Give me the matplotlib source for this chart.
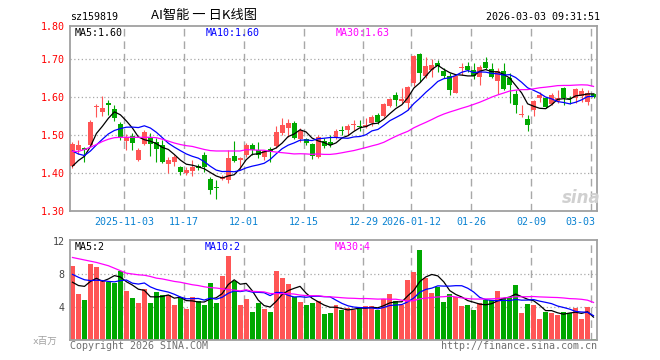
import matplotlib
matplotlib.use("Agg")
import matplotlib.pyplot as plt
import matplotlib.transforms as mtransforms
import numpy as np
import pandas as pd

# ---------------- data ----------------
holidays = ["2026-01-01", "2026-01-02", "2026-02-16", "2026-02-17", "2026-02-18",
            "2026-02-19", "2026-02-20", "2026-02-23"]
start_date, end_date = "2025-10-21", "2026-03-03"

label_dates = ["2025-11-03", "2025-11-17", "2025-12-01", "2025-12-15", "2025-12-29",
               "2026-01-12", "2026-01-26", "2026-02-09", "2026-03-03"]
label_texts = ["2025-11-03", "11-17", "12-01", "12-15", "12-29",
               "2026-01-12", "01-26", "02-09", "03-03"]

opens = [1.418, 1.461, 1.466, 1.474, 1.574, 1.561, 1.584, 1.568, 1.529, 1.483,
         1.497, 1.434, 1.476, 1.495, 1.482, 1.474, 1.424, 1.429, 1.416, 1.400,
         1.405, 1.418, 1.447, 1.384, 1.363, 1.384, 1.382, 1.445, 1.434, 1.447,
         1.474, 1.461, 1.442, 1.463, 1.470, 1.505, 1.518, 1.532, 1.489, 1.489,
         1.476, 1.442, 1.484, 1.482, 1.492, 1.513, 1.514, 1.526, 1.524, 1.521,
         1.532, 1.553, 1.549, 1.576, 1.605, 1.589, 1.584, 1.637, 1.712, 1.655,
         1.671, 1.690, 1.669, 1.655, 1.611, 1.677, 1.682, 1.671, 1.653, 1.693,
         1.673, 1.643, 1.669, 1.649, 1.608, 1.552, 1.542, 1.566, 1.597, 1.597,
         1.581, 1.590, 1.623, 1.597, 1.597, 1.603, 1.588, 1.608]
closes = [1.476, 1.474, 1.461, 1.534, 1.576, 1.571, 1.579, 1.545, 1.495, 1.495,
          1.479, 1.461, 1.508, 1.476, 1.463, 1.429, 1.434, 1.442, 1.403, 1.408,
          1.416, 1.413, 1.416, 1.355, 1.361, 1.390, 1.439, 1.432, 1.439, 1.474,
          1.461, 1.447, 1.458, 1.455, 1.508, 1.526, 1.532, 1.492, 1.511, 1.480,
          1.445, 1.495, 1.471, 1.474, 1.511, 1.511, 1.524, 1.528, 1.522, 1.526,
          1.547, 1.533, 1.582, 1.594, 1.593, 1.596, 1.627, 1.708, 1.662, 1.682,
          1.684, 1.682, 1.655, 1.618, 1.655, 1.679, 1.671, 1.655, 1.680, 1.676,
          1.652, 1.669, 1.621, 1.632, 1.579, 1.553, 1.526, 1.589, 1.605, 1.574,
          1.605, 1.597, 1.597, 1.596, 1.620, 1.616, 1.611, 1.599]
highs = [1.482, 1.487, 1.468, 1.539, 1.582, 1.603, 1.592, 1.579, 1.534, 1.503,
         1.505, 1.466, 1.513, 1.505, 1.492, 1.487, 1.442, 1.447, 1.418, 1.416,
         1.434, 1.424, 1.455, 1.389, 1.382, 1.395, 1.461, 1.484, 1.442, 1.479,
         1.479, 1.482, 1.461, 1.468, 1.524, 1.545, 1.542, 1.537, 1.518, 1.492,
         1.479, 1.500, 1.492, 1.500, 1.516, 1.524, 1.529, 1.539, 1.539, 1.545,
         1.553, 1.558, 1.584, 1.597, 1.613, 1.624, 1.629, 1.711, 1.716, 1.705,
         1.700, 1.697, 1.676, 1.662, 1.658, 1.689, 1.692, 1.690, 1.684, 1.706,
         1.689, 1.676, 1.689, 1.662, 1.618, 1.579, 1.553, 1.592, 1.614, 1.599,
         1.610, 1.618, 1.627, 1.603, 1.623, 1.623, 1.618, 1.611]
lows = [1.413, 1.450, 1.429, 1.468, 1.547, 1.550, 1.553, 1.537, 1.487, 1.461,
        1.461, 1.432, 1.474, 1.445, 1.429, 1.426, 1.400, 1.418, 1.395, 1.395,
        1.392, 1.408, 1.403, 1.345, 1.332, 1.382, 1.374, 1.429, 1.408, 1.442,
        1.447, 1.439, 1.434, 1.429, 1.466, 1.500, 1.495, 1.489, 1.482, 1.474,
        1.437, 1.439, 1.466, 1.468, 1.489, 1.500, 1.500, 1.513, 1.511, 1.518,
        1.524, 1.529, 1.547, 1.574, 1.576, 1.584, 1.566, 1.629, 1.639, 1.650,
        1.653, 1.666, 1.650, 1.605, 1.610, 1.658, 1.666, 1.647, 1.632, 1.673,
        1.649, 1.608, 1.618, 1.583, 1.557, 1.548, 1.511, 1.550, 1.588, 1.570,
        1.579, 1.583, 1.579, 1.582, 1.583, 1.588, 1.579, 1.597]
volumes = [8.97, 5.58, 4.85, 9.20, 8.80, 7.15, 7.00, 6.87, 8.36, 5.94,
           5.13, 4.48, 6.18, 4.48, 5.82, 5.41, 5.41, 4.24, 5.05, 3.76,
           5.25, 4.73, 4.24, 6.90, 4.48, 7.76, 10.18, 7.15, 4.24, 4.97,
           3.39, 4.48, 3.76, 3.39, 8.36, 7.56, 6.83, 5.17, 4.60, 4.24,
           4.48, 4.73, 3.15, 3.27, 4.24, 3.64, 3.92, 3.64, 3.92, 4.16,
           4.16, 3.64, 4.97, 5.58, 4.73, 4.24, 7.27, 8.28, 10.90, 7.56,
           5.70, 6.42, 4.65, 5.58, 5.25, 4.16, 4.24, 3.64, 4.44, 4.85,
           4.85, 5.94, 5.13, 5.25, 6.67, 3.27, 4.36, 4.24, 2.55, 3.39,
           3.27, 3.03, 3.39, 3.27, 3.88, 2.55, 4.04, 0.12]

# moving-average values at the left edge (they depend on earlier, unseen days)
ma5_head = [1.418, 1.433, 1.444, 1.470]
ma10_head = [1.458, 1.450, 1.446, 1.458, 1.474, 1.489, 1.503, 1.512, 1.517]
ma30_head = [1.457, 1.457, 1.462, 1.468, 1.475, 1.483, 1.489, 1.493, 1.494, 1.494,
             1.494, 1.494, 1.494, 1.494, 1.493, 1.489, 1.484, 1.479, 1.475, 1.472,
             1.470, 1.466, 1.462, 1.459, 1.458, 1.458, 1.458, 1.458, 1.458]
vol_ma5_head = [7.0, 6.6, 6.5, 7.1]
vol_ma10_head = [7.95, 7.6, 7.3, 7.2, 7.25, 7.2, 7.1, 7.05, 7.2]
vol_ma30_head = [10.0, 9.85, 9.7, 9.55, 9.4, 9.2, 9.0, 8.7, 8.4, 8.1,
                 8.0, 7.9, 7.85, 7.7, 7.5, 7.4, 7.25, 7.1, 7.0, 6.85,
                 6.7, 6.6, 6.45, 6.35, 6.3, 6.2, 6.1, 6.05, 5.95]

price_ticks = [1.30, 1.40, 1.50, 1.60, 1.70, 1.80]
vol_ticks = [4, 8, 12]

code_text = "sz159819"
title_text = "AI智能 一 日K线图"
time_text = "2026-03-03 09:31:51"
price_legend = ["MA5:1.60", "MA10:1.60", "MA30:1.63"]
vol_legend = ["MA5:2", "MA10:2", "MA30:4"]
vol_unit = "x百万"
copyright_text = "Copyright 2026 SINA.COM"
url_text = "http://finance.sina.com.cn"

# ---------------- styles ----------------
RED = "#ff5555"
GREEN = "#00a800"
GRID = "#a8a8a8"
FRAME = "#a0a0a0"
XLAB = "#0a82d2"
MONO = "DejaVu Sans Mono"
FS = 7.2
MA_COLORS = ["#000000", "#0000ff", "#ff00ff"]

W, H = 660, 360
fig = plt.figure(figsize=(W / 100, H / 100), dpi=100)
fig.patch.set_facecolor("white")


def fx(px):
    return px / W


def fy(py):
    return 1 - py / H


ax = fig.add_axes([fx(70), fy(211), fx(597) - fx(70), fy(26) - fy(211)])
axv = fig.add_axes([fx(70), fy(340), fx(597) - fx(70), fy(240) - fy(340)])

trade_days = pd.bdate_range(start_date, end_date)
trade_days = trade_days[~trade_days.isin(pd.to_datetime(holidays))]
o = np.array(opens)
c = np.array(closes)
hi = np.array(highs)
lo = np.array(lows)
v = np.array(volumes)
n = len(c)
idx = np.arange(n)
BW = 5 / 6
xc = idx + BW / 2
up = c >= o
cols = np.where(up, RED, GREEN)

tick_idx = [int(trade_days.get_loc(pd.Timestamp(d))) for d in label_dates]


def moving_average(values, window, head):
    s = pd.Series(values).rolling(window).mean().to_numpy()
    s[: window - 1] = head
    return s


# ---------------- price panel ----------------
ytop = 1.787
ax.set_xlim(0, n)
ax.set_ylim(1.30, ytop)
for t in price_ticks[1:-1]:
    ax.axhline(t, color=GRID, lw=0.9, ls=(0, (1, 2)), zorder=0)
for xi in tick_idx:
    ax.axvline(xi, color=GRID, lw=1.0, ls=(0, (5.5, 3.5)), zorder=0)

ax.vlines(xc, lo, hi, colors=cols, lw=0.8, zorder=2)
body_bottom = np.minimum(o, c)
body_h = np.maximum(np.abs(c - o), 0.0026)
ax.bar(idx, body_h, bottom=body_bottom, width=BW, align="edge", color=cols,
       linewidth=0, zorder=3)

for win, head, col in zip((5, 10, 30), (ma5_head, ma10_head, ma30_head), MA_COLORS):
    ax.plot(xc, moving_average(c, win, head), color=col, lw=0.9, zorder=4)

ax.set_yticks(np.minimum(price_ticks, ytop))
ax.set_yticklabels([f"{t:.2f}" for t in price_ticks], color="#ff0000",
                   fontfamily=MONO, fontsize=FS)
ax.set_xticks([])
ax.tick_params(axis="y", length=0, pad=4)

# ---------------- volume panel ----------------
vtop = 12.12
axv.set_xlim(0, n)
axv.set_ylim(0, vtop)
for t in vol_ticks[:-1]:
    axv.axhline(t, color=GRID, lw=0.9, ls=(0, (1, 2)), zorder=0)
for xi in tick_idx:
    axv.axvline(xi, color=GRID, lw=1.0, ls=(0, (5.5, 3.5)), zorder=0)
axv.bar(idx, v, width=BW, align="edge", color=cols, linewidth=0, zorder=2)
for win, head, col in zip((5, 10, 30), (vol_ma5_head, vol_ma10_head, vol_ma30_head), MA_COLORS):
    axv.plot(xc, moving_average(v, win, head), color=col, lw=0.9, zorder=4)
axv.set_yticks(np.minimum(vol_ticks, vtop))
axv.set_yticklabels([str(t) for t in vol_ticks], color="#444444",
                    fontfamily=MONO, fontsize=FS)
axv.set_xticks([])
axv.tick_params(axis="y", length=0, pad=4)

for a in (ax, axv):
    for sp in a.spines.values():
        sp.set_color(FRAME)
        sp.set_linewidth(1.3)
    a.set_facecolor("white")

# ---------------- x labels ----------------
tr = mtransforms.blended_transform_factory(ax.transData, fig.transFigure)
for k, (xi, lab) in enumerate(zip(tick_idx, label_texts)):
    last = k == len(tick_idx) - 1
    ax.text(n - 0.3 if last else xi, fy(222), lab, transform=tr,
            ha="right" if last else "center", va="center", color=XLAB,
            fontfamily=MONO, fontsize=FS, clip_on=False)

# ---------------- texts ----------------
fig.text(fx(70), fy(16.5), code_text, fontfamily=MONO, fontsize=FS, va="center", ha="left")
fig.text(fx(151), fy(16), title_text, family=["Noto Sans CJK SC", "DejaVu Sans"],
         fontsize=9.5, va="center", ha="left")
fig.text(fx(600), fy(16.5), time_text, fontfamily=MONO, fontsize=FS, va="center", ha="right")

for xp, txt, col in zip((75, 206, 336), price_legend, MA_COLORS):
    fig.text(fx(xp), fy(33.5), txt, color=col, fontfamily=MONO, fontsize=FS, va="center")
for xp, txt, col in zip((75, 205, 335), vol_legend, MA_COLORS):
    fig.text(fx(xp), fy(247), txt, color=col, fontfamily=MONO, fontsize=FS, va="center")

fig.text(fx(45), fy(341), vol_unit, family=[MONO, "Noto Sans CJK SC"], fontsize=6.8,
         color="#a0a0a0", ha="center", va="center")
fig.text(fx(70), fy(346), copyright_text, fontfamily=MONO, fontsize=FS, color="#707070",
         va="center", ha="left")
fig.text(fx(597), fy(346), url_text, fontfamily=MONO, fontsize=FS, color="#707070",
         va="center", ha="right")
fig.text(fx(581), fy(198), "sina", fontsize=12, fontweight="bold", style="italic",
         color="#d0d0d0", ha="center", va="center")

fig.savefig("out.png", dpi=100)
